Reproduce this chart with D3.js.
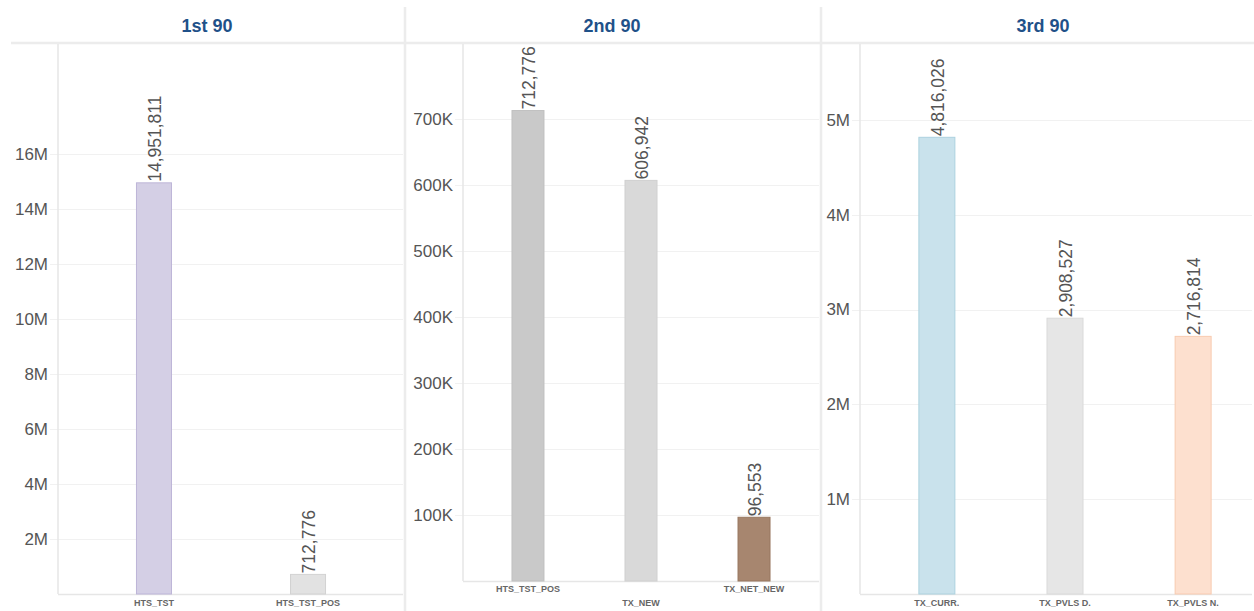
<!DOCTYPE html>
<html>
<head>
<meta charset="utf-8">
<script src="https://cdn.jsdelivr.net/npm/d3@7"></script>
<style>
  html, body { margin: 0; padding: 0; background: #fff; }
  svg { display: block; font-family: Arial, "Liberation Sans", sans-serif; }
</style>
</head>
<body>
<svg id="chart" width="1254" height="611"></svg>
<script>
// Panel titles
const panelTitles = ["1st 90", "2nd 90", "3rd 90"];

// 1st 90
const cats1 = ["HTS_TST", "HTS_TST_POS"];
const vals1 = [14951811, 712776];
const ticks1 = [2e6, 4e6, 6e6, 8e6, 10e6, 12e6, 14e6, 16e6];

// 2nd 90
const cats2 = ["HTS_TST_POS", "TX_NEW", "TX_NET_NEW"];
const vals2 = [712776, 606942, 96553];
const ticks2 = [1e5, 2e5, 3e5, 4e5, 5e5, 6e5, 7e5];

// 3rd 90
const cats3 = ["TX_CURR.", "TX_PVLS D.", "TX_PVLS N."];
const vals3 = [4816026, 2908527, 2716814];
const ticks3 = [1e6, 2e6, 3e6, 4e6, 5e6];

// bar fills and outlines
const fills1 = ["#d4cfe5", "#e2e2e2"];
const strokes1 = ["#bdb5d8", "#d2d2d2"];
const fills2 = ["#c9c9c9", "#d9d9d9", "#a7866f"];
const strokes2 = ["#c0c0c0", "#d0d0d0", "#98775f"];
const fills3 = ["#c9e2ec", "#e6e6e6", "#fde0cf"];
const strokes3 = ["#acd2df", "#dadada", "#f8cbb0"];

const fmtM = d => (d / 1e6) + "M";
const fmtK = d => (d / 1e3) + "K";
const fmtVal = d3.format(",");

const svg = d3.select("#chart");
const lineColor = "#ececec";
const textColor = "#555555";
const titleColor = "#1f5189";

// panel layout
const panels = [
  { title: panelTitles[0], cats: cats1, vals: vals1, ticks: ticks1, fmt: fmtM, fills: fills1, strokes: strokes1,
    left: 11, right: 405, axisX: 58, rangeR: 404, pad: 0.623, max: 20e6, base: 594, barW: 36, stagger: false },
  { title: panelTitles[1], cats: cats2, vals: vals2, ticks: ticks2, fmt: fmtK, fills: fills2, strokes: strokes2,
    left: 405, right: 821, axisX: 463, rangeR: 819, pad: 0.575, max: 813600, base: 581, barW: 33, stagger: true },
  { title: panelTitles[2], cats: cats3, vals: vals3, ticks: ticks3, fmt: fmtM, fills: fills3, strokes: strokes3,
    left: 821, right: 1267, axisX: 860, rangeR: 1270, pad: 0.6, max: 5.8e6, base: 594, barW: 37, stagger: false }
];

const plotTop = 44;

// header rule and panel separators
svg.append("line")
  .attr("x1", 11).attr("x2", 1254).attr("y1", 43).attr("y2", 43)
  .attr("stroke", lineColor).attr("stroke-width", 2.5);
[405, 821].forEach(x => {
  svg.append("line")
    .attr("x1", x).attr("x2", x).attr("y1", 7).attr("y2", 611)
    .attr("stroke", lineColor).attr("stroke-width", 2.5);
});

panels.forEach(p => {
  const g = svg.append("g");

  // title
  g.append("text")
    .attr("x", (p.left + p.right) / 2 - 1)
    .attr("y", 31.5)
    .attr("text-anchor", "middle")
    .attr("font-size", 18)
    .attr("font-weight", "bold")
    .attr("fill", titleColor)
    .text(p.title);

  const y = d3.scaleLinear().domain([0, p.max]).range([p.base, plotTop]);
  const x = d3.scalePoint().domain(p.cats).range([p.axisX, p.rangeR]).padding(p.pad);
  const plotRight = Math.min(p.right, 1254);

  // gridlines and tick marks
  g.append("g").selectAll("line")
    .data(p.ticks)
    .join("line")
    .attr("x1", p.axisX - 8).attr("x2", plotRight - 2)
    .attr("y1", d => Math.round(y(d)) + 0.5).attr("y2", d => Math.round(y(d)) + 0.5)
    .attr("stroke", "#f1f1f1").attr("stroke-width", 1.2);

  // y axis labels
  const yAxis = d3.axisLeft(y).tickValues(p.ticks).tickFormat(p.fmt).tickSize(0).tickPadding(10);
  const ag = g.append("g").attr("transform", `translate(${p.axisX},0)`).call(yAxis);
  ag.select(".domain").remove();
  ag.selectAll("text")
    .attr("font-size", 17)
    .attr("font-family", "Arial, 'Liberation Sans', sans-serif")
    .attr("fill", textColor);

  // axis line and baseline
  g.append("line")
    .attr("x1", p.axisX).attr("x2", p.axisX).attr("y1", plotTop).attr("y2", p.base)
    .attr("stroke", "#e6e6e6").attr("stroke-width", 1.5);
  g.append("line")
    .attr("x1", p.axisX).attr("x2", plotRight - 2).attr("y1", p.base + 0.5).attr("y2", p.base + 0.5)
    .attr("stroke", "#e6e6e6").attr("stroke-width", 1.5);

  // bars
  g.append("g").selectAll("rect")
    .data(p.cats)
    .join("rect")
    .attr("x", d => x(d) - p.barW / 2 + 0.5)
    .attr("width", p.barW - 1)
    .attr("y", (d, i) => y(p.vals[i]))
    .attr("height", (d, i) => p.base - y(p.vals[i]))
    .attr("fill", (d, i) => p.fills[i])
    .attr("stroke", (d, i) => p.strokes[i])
    .attr("stroke-width", 1);

  // value labels
  g.append("g").selectAll("text")
    .data(p.cats)
    .join("text")
    .attr("transform", (d, i) => `translate(${x(d) + 1},${y(p.vals[i]) - 1}) rotate(-90)`)
    .attr("dy", "0.35em")
    .attr("text-anchor", "start")
    .attr("font-size", 17.5)
    .attr("fill", textColor)
    .text((d, i) => fmtVal(p.vals[i]));

  // category labels
  g.append("g").selectAll("text")
    .data(p.cats)
    .join("text")
    .attr("x", d => x(d))
    .attr("y", (d, i) => p.stagger ? (i % 2 === 1 ? 606 : 592) : 606)
    .attr("text-anchor", "middle")
    .attr("font-size", 9)
    .attr("font-weight", "bold")
    .attr("fill", "#666")
    .text(d => d);
});
</script>
</body>
</html>
